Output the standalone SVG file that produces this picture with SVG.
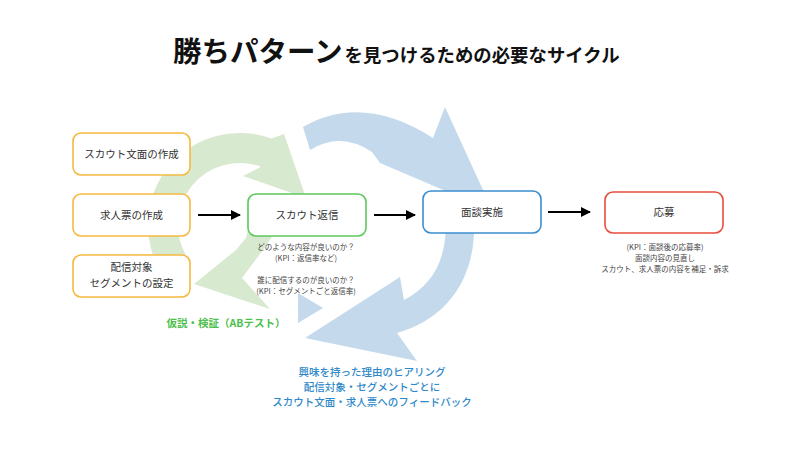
<svg xmlns="http://www.w3.org/2000/svg" width="800" height="449" viewBox="0 0 800 449">
<defs>
<style>
.t{font-family:"Noto Sans CJK JP","Noto Sans",sans-serif;}
.lbl{font-size:10.5px;fill:#333;text-anchor:middle;}
.note{font-size:7.5px;fill:#444;text-anchor:middle;}
.box{fill:#fff;stroke-width:1.6;}
.conn{stroke:#000;stroke-width:2;fill:none;marker-end:url(#ah);}
.blue{fill:#C4DAEC;}
.green{fill:#D7E9CE;}
.bl{font-size:10.5px;font-weight:500;fill:#2E88C9;text-anchor:middle;}
</style>
<marker id="ah" viewBox="0 0 10 10" refX="9" refY="5" markerWidth="5" markerHeight="5" orient="auto" markerUnits="strokeWidth">
<path d="M0,0 L10,5 L0,10 Z" fill="#000"/>
</marker>
</defs>
<rect width="800" height="449" fill="#fff"/>
<g id="title">
<text class="t" x="173" y="62" font-size="28.5" font-weight="bold" fill="#111">勝ちパターン<tspan dx="2" font-size="18.4">を見つけるための必要なサイクル</tspan></text>
</g>
<g id="cycle-green">
<path class="green" d="M162,273.8 A92,92 0 0 1 271.5,138.5 L284,134 L306,198 L243,176 L261.2,166.7 A62,62 0 0 0 187.4,257.9 Z"/>
<path class="green" d="M249,225 L279,225 L268,243 L242,278 L270,309 L194,284 L236,250 L246,238 Z"/>
</g>
<g id="cycle-blue">
<path class="blue" d="M303,127 Q362,93 433,138 L445,107 L483,190 L476,222 L455,195 L380,163 L372,152 Q341,131 310,150 Z"/>
<path class="blue" d="M446,222 L474,222 C476,275 450,318 397,333 L417,361 L305,338 L400,277 L404,300 C432,285 446,262 446,222 Z"/>
<path class="blue" d="M298,293 L323,308 L298,323 Z"/>
</g>
<g id="connectors">
<line class="conn" x1="198" y1="215" x2="240" y2="215"/>
<line class="conn" x1="374" y1="215" x2="415" y2="215"/>
<line class="conn" x1="548" y1="212" x2="590" y2="212"/>
</g>
<g id="n-scout-text">
<rect class="box" x="73" y="133" width="117" height="42" rx="8" stroke="#F5B940"/>
<text class="t lbl" x="131.5" y="158">スカウト文面の作成</text>
</g>
<g id="n-job">
<rect class="box" x="73" y="194" width="117" height="42" rx="8" stroke="#F5B940"/>
<text class="t lbl" x="131.5" y="219">求人票の作成</text>
</g>
<g id="n-segment">
<rect class="box" x="73" y="255" width="117" height="42" rx="8" stroke="#F5B940"/>
<text class="t lbl" x="131.5" y="271">配信対象</text>
<text class="t lbl" x="131.5" y="287">セグメントの設定</text>
</g>
<g id="n-reply">
<rect class="box" x="248" y="194" width="118" height="42" rx="8" stroke="#5CC85C"/>
<text class="t lbl" x="307" y="219">スカウト返信</text>
<text class="t note" x="306" y="250">どのような内容が良いのか？</text>
<text class="t note" x="306" y="261">(KPI：返信率など)</text>
<text class="t note" x="306" y="283">誰に配信するのが良いのか？</text>
<text class="t note" x="306" y="294">(KPI：セグメントごと返信率)</text>
</g>
<g id="n-interview">
<rect class="box" x="423" y="191" width="118" height="42" rx="8" stroke="#3A8ED0"/>
<text class="t lbl" x="482" y="216">面談実施</text>
</g>
<g id="n-apply">
<rect class="box" x="605" y="192" width="118" height="41" rx="8" stroke="#E84C3D"/>
<text class="t lbl" x="664" y="216">応募</text>
<text class="t note" x="665" y="250">(KPI：面談後の応募率)</text>
<text class="t note" x="665" y="261">面談内容の見直し</text>
<text class="t note" x="665" y="272">スカウト、求人票の内容を補足・訴求</text>
</g>
<g id="label-green">
<text class="t" x="226" y="327" font-size="10.5" font-weight="bold" fill="#4CBF4C" text-anchor="middle">仮説・検証（ABテスト）</text>
</g>
<g id="label-blue">
<text class="t bl" x="372" y="376">興味を持った理由のヒアリング</text>
<text class="t bl" x="372" y="391">配信対象・セグメントごとに</text>
<text class="t bl" x="372" y="406">スカウト文面・求人票へのフィードバック</text>
</g>
</svg>
